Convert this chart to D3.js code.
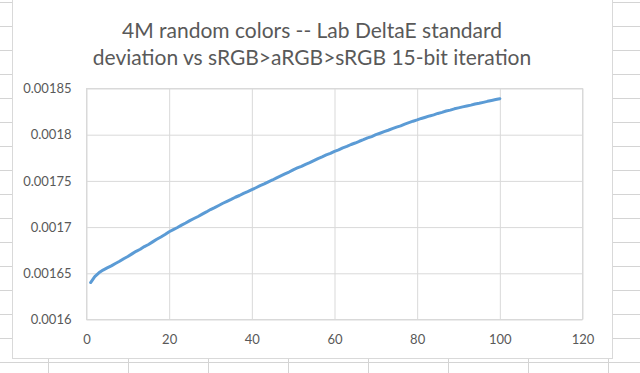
<!DOCTYPE html>
<html>
<head>
<meta charset="utf-8">
<script src="https://cdn.jsdelivr.net/npm/d3@7"></script>
<style>
  body { margin: 0; background: #fff; }
  svg { display: block; }
  .tick text { font-family: Lato, "Open Sans", sans-serif; font-size: 13px; fill: #595959; }
</style>
</head>
<body>
<div id="chart"></div>
<script>
// iteration number (x) and Lab DeltaE std deviation (y)
var iterations = d3.range(1, 101);
var deltaStd = [
  0.0016400, 0.0016465, 0.0016505, 0.0016535, 0.0016558, 0.0016580, 0.0016606, 0.0016630, 0.0016658, 0.0016682,
  0.0016710, 0.0016738, 0.0016760, 0.0016789, 0.0016812, 0.0016840, 0.0016868, 0.0016893, 0.0016920, 0.0016950,
  0.0016973, 0.0016996, 0.0017021, 0.0017044, 0.0017070, 0.0017093, 0.0017115, 0.0017140, 0.0017164, 0.0017190,
  0.0017211, 0.0017234, 0.0017258, 0.0017279, 0.0017300, 0.0017323, 0.0017342, 0.0017365, 0.0017384, 0.0017405,
  0.0017426, 0.0017448, 0.0017467, 0.0017490, 0.0017510, 0.0017533, 0.0017554, 0.0017576, 0.0017596, 0.0017620,
  0.0017640, 0.0017658, 0.0017679, 0.0017698, 0.0017720, 0.0017742, 0.0017760, 0.0017781, 0.0017798, 0.0017820,
  0.0017836, 0.0017857, 0.0017873, 0.0017894, 0.0017910, 0.0017929, 0.0017946, 0.0017965, 0.0017980, 0.0018000,
  0.0018016, 0.0018033, 0.0018048, 0.0018066, 0.0018082, 0.0018096, 0.0018115, 0.0018130, 0.0018146, 0.0018160,
  0.0018176, 0.0018189, 0.0018203, 0.0018215, 0.0018230, 0.0018242, 0.0018256, 0.0018266, 0.0018280, 0.0018290,
  0.0018301, 0.0018310, 0.0018320, 0.0018332, 0.0018340, 0.0018350, 0.0018361, 0.0018370, 0.0018380, 0.0018390
];
var xTicks = [0, 20, 40, 60, 80, 100, 120];
var yTicks = [0.0016, 0.00165, 0.0017, 0.00175, 0.0018, 0.00185];
var yTickLabels = ["0.0016", "0.00165", "0.0017", "0.00175", "0.0018", "0.00185"];
var titleLines = ["4M random colors -- Lab DeltaE standard", "deviation vs sRGB>aRGB>sRGB 15-bit iteration"];

var W = 640, H = 373;
var svg = d3.select("#chart").append("svg")
    .attr("width", W)
    .attr("height", H);

//Spreadsheet cell grid behind the chart
var cellRows = d3.range(2, H, 24);
var cellCols = d3.range(48, W, 80);
svg.selectAll(".rowline").data(cellRows).enter().append("line")
    .attr("x1", 0).attr("x2", W)
    .attr("y1", function (d) { return d + 0.5; })
    .attr("y2", function (d) { return d + 0.5; })
    .attr("stroke", "#d4d4d4");
svg.selectAll(".colline").data(cellCols).enter().append("line")
    .attr("x1", function (d) { return d + 0.5; })
    .attr("x2", function (d) { return d + 0.5; })
    .attr("y1", 0).attr("y2", H)
    .attr("stroke", "#d4d4d4");

//Chart box
svg.append("rect")
    .attr("x", 12.5).attr("y", -10)
    .attr("width", 600).attr("height", 368.5)
    .attr("fill", "#fff")
    .attr("stroke", "#d9d9d9");

//Title
svg.append("g").selectAll("text").data(titleLines).enter().append("text")
    .attr("x", 312)
    .attr("y", function (d, i) { return 37.5 + i * 27.5; })
    .attr("text-anchor", "middle")
    .attr("font-family", "Lato, 'Open Sans', sans-serif")
    .attr("font-size", "21px")
    .attr("fill", "#595959")
    .text(function (d) { return d; });

//Scales
var x = d3.scaleLinear().domain([0, 120]).range([86.5, 582.5]);
var y = d3.scaleLinear().domain([0.0016, 0.00185]).range([319.5, 88.5]);

//Gridlines
var xGrid = svg.append("g")
    .attr("transform", "translate(0," + 319.5 + ")")
    .call(d3.axisBottom(x).tickValues(xTicks).tickSize(-(319.5 - 88.5)).tickPadding(15)
        .tickFormat(d3.format("d")));
var yGrid = svg.append("g")
    .attr("transform", "translate(" + 86.5 + ",0)")
    .call(d3.axisLeft(y).tickValues(yTicks).tickSize(-(582.5 - 86.5)).tickPadding(15)
        .tickFormat(function (d, i) { return yTickLabels[i]; }));

[xGrid, yGrid].forEach(function (ax) {
    ax.select(".domain").remove();
    ax.selectAll(".tick line").attr("stroke", "#d9d9d9");
});

//Plot area frame
svg.append("rect")
    .attr("x", 86.5).attr("y", 88.5)
    .attr("width", 496).attr("height", 231)
    .attr("fill", "none")
    .attr("stroke", "#d9d9d9");

//Series line
var line = d3.line()
    .x(function (d, i) { return x(iterations[i]); })
    .y(function (d) { return y(d); });

svg.append("path")
    .datum(deltaStd)
    .attr("fill", "none")
    .attr("stroke", "#5b9bd5")
    .attr("stroke-width", 3)
    .attr("stroke-linejoin", "round")
    .attr("stroke-linecap", "round")
    .attr("d", line);
</script>
</body>
</html>
